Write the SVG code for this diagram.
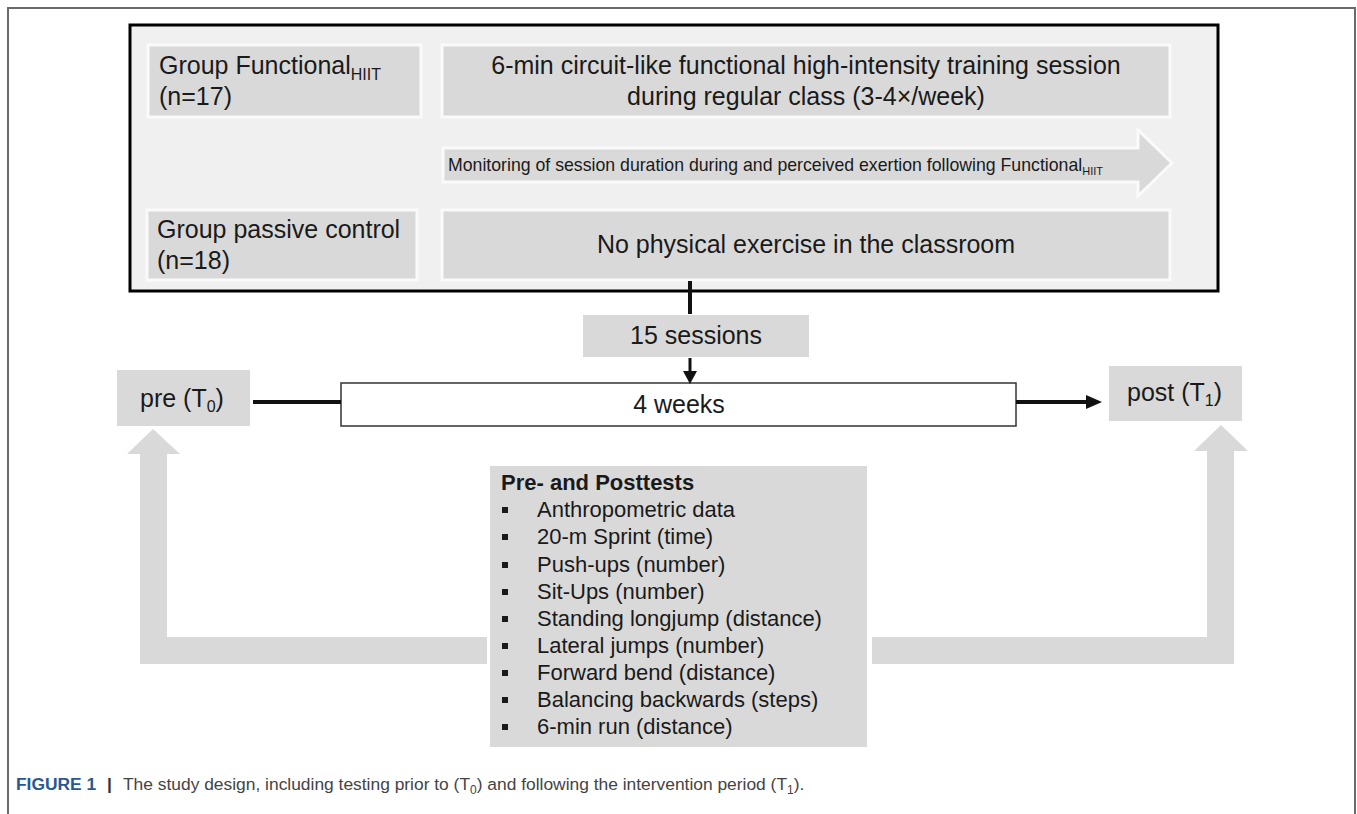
<svg xmlns="http://www.w3.org/2000/svg" width="1357" height="814" viewBox="0 0 1357 814">
<defs>
<style>
.t{font-family:"Liberation Sans",Arial,sans-serif;fill:#1a1a1a}
.f25{font-size:25px}
.f22{font-size:22px}
.box{fill:#d9d9d9;stroke:#fafafa;stroke-width:3}
.gbox{fill:#d9d9d9}
.big{fill:#d9d9d9}
.ln{stroke:#111;stroke-width:4;fill:none}
.bul{fill:#1a1a1a}
.cap{font-family:"Liberation Sans",Arial,sans-serif;font-size:17.4px;fill:#444}
</style>
</defs>
<rect width="1357" height="814" fill="#fff"/>
<g id="frame">
<path d="M8,814 L8,8 L1355,8 L1355,814" fill="none" stroke="#6a6a6a" stroke-width="2"/>
</g>
<g id="intervention-box">
<rect x="130" y="25" width="1088" height="266" fill="#f0f0f0" stroke="#000" stroke-width="3"/>
</g>
<g id="node-functional">
<rect class="box" x="148" y="45" width="273" height="72"/>
<text class="t f25" x="159" y="74">Group Functional<tspan font-size="16" dy="6">HIIT</tspan></text>
<text class="t f25" x="159" y="105">(n=17)</text>
</g>
<g id="node-functional-session">
<rect class="box" x="442" y="45" width="728" height="72"/>
<text class="t f25" x="806" y="74" text-anchor="middle">6-min circuit-like functional high-intensity training session</text>
<text class="t f25" x="806" y="105" text-anchor="middle">during regular class (3-4×/week)</text>
</g>
<g id="node-monitoring">
<path d="M443,148 L1138,148 L1138,130 L1172,163 L1138,196 L1138,182 L443,182 Z" fill="#d9d9d9" stroke="#fafafa" stroke-width="3"/>
<text class="t" x="448" y="171" font-size="17.7">Monitoring of session duration during and perceived exertion following Functional<tspan font-size="11" dy="4">HIIT</tspan></text>
</g>
<g id="node-control">
<rect class="box" x="147" y="210" width="270" height="70"/>
<text class="t f25" x="157" y="238">Group passive control</text>
<text class="t f25" x="157" y="269">(n=18)</text>
</g>
<g id="node-control-desc">
<rect class="box" x="442" y="210" width="728" height="70"/>
<text class="t f25" x="806" y="253" text-anchor="middle">No physical exercise in the classroom</text>
</g>
<g id="node-sessions">
<rect class="gbox" x="583" y="315" width="226" height="42"/>
<text class="t f25" x="696" y="344" text-anchor="middle">15 sessions</text>
</g>
<g id="node-weeks">
<rect x="341" y="383" width="675" height="43" fill="#fff" stroke="#333" stroke-width="1.5"/>
<text class="t f25" x="679" y="413" text-anchor="middle">4 weeks</text>
</g>
<g id="node-pre">
<rect class="gbox" x="117" y="370" width="133" height="56"/>
<text class="t f25" x="140" y="407">pre (T<tspan font-size="16" dy="5">0</tspan><tspan dy="-5">)</tspan></text>
</g>
<g id="node-post">
<rect class="gbox" x="1109" y="366" width="133" height="55"/>
<text class="t f25" x="1127" y="401">post (T<tspan font-size="16" dy="5">1</tspan><tspan dy="-5">)</tspan></text>
</g>
<g id="node-tests">
<rect class="gbox" x="490" y="466" width="377" height="281"/>
<text class="t f22" x="501" y="490" font-weight="bold">Pre- and Posttests</text>
<g class="bul">
<rect x="502" y="507" width="6" height="6"/>
<rect x="502" y="534" width="6" height="6"/>
<rect x="502" y="562" width="6" height="6"/>
<rect x="502" y="589" width="6" height="6"/>
<rect x="502" y="616" width="6" height="6"/>
<rect x="502" y="643" width="6" height="6"/>
<rect x="502" y="670" width="6" height="6"/>
<rect x="502" y="697" width="6" height="6"/>
<rect x="502" y="724" width="6" height="6"/>
</g>
<text class="t f22" x="537" y="517">Anthropometric data</text>
<text class="t f22" x="537" y="544">20-m Sprint (time)</text>
<text class="t f22" x="537" y="572">Push-ups (number)</text>
<text class="t f22" x="537" y="599">Sit-Ups (number)</text>
<text class="t f22" x="537" y="626">Standing longjump (distance)</text>
<text class="t f22" x="537" y="653">Lateral jumps (number)</text>
<text class="t f22" x="537" y="680">Forward bend (distance)</text>
<text class="t f22" x="537" y="707">Balancing backwards (steps)</text>
<text class="t f22" x="537" y="734">6-min run (distance)</text>
</g>
<g id="connectors">
<line class="ln" x1="690" y1="281" x2="690" y2="314"/>
<line x1="690" y1="358" x2="690" y2="373" stroke="#111" stroke-width="3"/>
<path d="M683,371 L697,371 L690,384 Z" fill="#111"/>
<line class="ln" x1="253" y1="402" x2="341" y2="402"/>
<line class="ln" x1="1016" y1="402" x2="1088" y2="402"/>
<path d="M1086,395 L1102,402 L1086,409 Z" fill="#111"/>
<path class="big" d="M487,637 L167,637 L167,454 L180,454 L153,429 L127,454 L140,454 L140,664 L487,664 Z"/>
<path class="big" d="M872,637 L1207,637 L1207,451 L1194,451 L1221,425 L1248,451 L1234,451 L1234,664 L872,664 Z"/>
</g>
<g id="caption">
<text x="16" y="790" font-family="Liberation Sans,Arial,sans-serif" font-size="17.4" font-weight="bold" fill="#2a5694">FIGURE 1</text>
<text x="107" y="790" font-family="Liberation Sans,Arial,sans-serif" font-size="17.4" font-weight="bold" fill="#333">|</text>
<text class="cap" x="123" y="790">The study design, including testing prior to (T<tspan font-size="12" dy="4">0</tspan><tspan dy="-4">) and following the intervention period (T</tspan><tspan font-size="12" dy="4">1</tspan><tspan dy="-4">).</tspan></text>
</g>
</svg>
